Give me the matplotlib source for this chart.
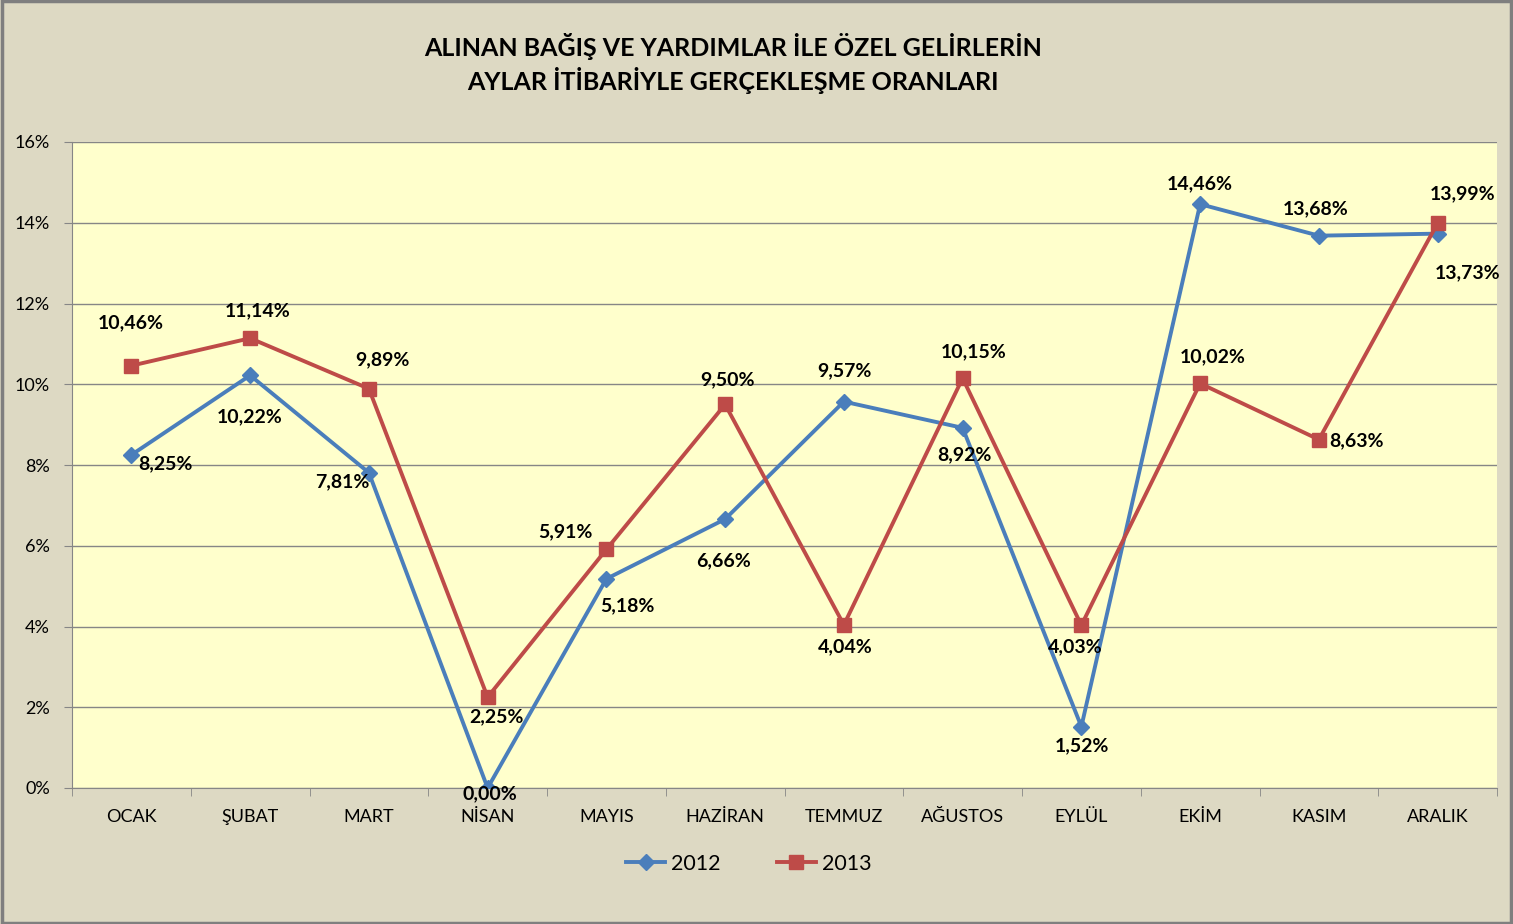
import matplotlib
matplotlib.use("Agg")
import matplotlib.pyplot as plt
from matplotlib.ticker import FixedLocator, FuncFormatter
from matplotlib.patches import Rectangle

plt.rcParams['font.family'] = ['Lato', 'DejaVu Sans']

months = ["OCAK", "ŞUBAT", "MART", "NİSAN", "MAYIS", "HAZİRAN", "TEMMUZ",
          "AĞUSTOS", "EYLÜL", "EKİM", "KASIM", "ARALIK"]
values_2012 = [8.25, 10.22, 7.81, 0.00, 5.18, 6.66, 9.57, 8.92, 1.52, 14.46, 13.68, 13.73]
values_2013 = [10.46, 11.14, 9.89, 2.25, 5.91, 9.50, 4.04, 10.15, 4.03, 10.02, 8.63, 13.99]
yticks = [0, 2, 4, 6, 8, 10, 12, 14, 16]
title_lines = ["ALINAN BAĞIŞ VE YARDIMLAR İLE ÖZEL GELİRLERİN",
               "AYLAR İTİBARİYLE GERÇEKLEŞME ORANLARI"]

# label offsets in pixels (layout)
off_2012 = [(34, -9), (0, -41), (-27, -9), (2, -6), (21, -27), (-2, -42), (1, 31), (2, -27),
            (1, -19), (0, 20), (-3, 27), (30, -39)]
off_2013 = [(-1, 43), (8, 27), (14, 29), (9, -20), (-41, 18), (2, 25), (1, -22), (11, 26),
            (-6, -21), (13, 27), (38, -1), (25, 29)]

blue = "#4A7EBB"
red = "#BE4B48"

fig = plt.figure(figsize=(15.13, 9.24), dpi=100)
fig.patch.set_facecolor("#DDD9C3")
fig.patches.append(Rectangle((0.001, 0.001), 0.998, 0.998, transform=fig.transFigure,
                             fill=False, edgecolor="#7F7F7F", linewidth=2.5))

ax = fig.add_axes([72/1513, 1-788/924, (1497-72)/1513, (788-142)/924])
ax.set_facecolor("#FFFFCC")
x = list(range(len(months)))

ax.plot(x, values_2012, color=blue, linewidth=2.8, marker="D", markersize=8,
        markeredgecolor=blue, label="2012", zorder=3)
ax.plot(x, values_2013, color=red, linewidth=2.8, marker="s", markersize=10,
        markeredgecolor=red, label="2013", zorder=4)

for i, v in enumerate(values_2012):
    ax.annotate(f"{v:.2f}%".replace(".", ","), (i, v), xytext=off_2012[i],
                textcoords="offset pixels", ha="center", va="center",
                fontsize=14, fontweight="bold", color="black", zorder=5)
for i, v in enumerate(values_2013):
    ax.annotate(f"{v:.2f}%".replace(".", ","), (i, v), xytext=off_2013[i],
                textcoords="offset pixels", ha="center", va="center",
                fontsize=14, fontweight="bold", color="black", zorder=5)

ax.set_xlim(-0.5, len(months) - 0.5)
ax.set_ylim(0, 16)
ax.set_yticks(yticks)
ax.yaxis.set_major_formatter(FuncFormatter(lambda v, p: f"{int(v)}%"))
ax.yaxis.grid(True, color="#868686", linewidth=1)
ax.set_axisbelow(True)

ax.set_xticks(x)
ax.set_xticklabels(months)
ax.xaxis.set_minor_locator(FixedLocator([i - 0.5 for i in range(len(months) + 1)]))
ax.tick_params(axis="x", which="major", length=0, pad=15, labelsize=13)
ax.tick_params(axis="x", which="minor", length=6, color="#868686", direction="out")
ax.tick_params(axis="y", length=6, color="#868686", labelsize=13, pad=10)

for side in ["top", "right"]:
    ax.spines[side].set_visible(False)
ax.spines["left"].set_color("#868686")
ax.spines["bottom"].set_color("#868686")

fig.text(733/1513, 1-46/924, title_lines[0], ha="center", va="center",
         fontsize=18, fontweight="bold")
fig.text(733/1513, 1-81/924, title_lines[1], ha="center", va="center",
         fontsize=18, fontweight="bold")

leg = fig.legend(loc="center", bbox_to_anchor=(749/1513, 1-864/924), ncol=2,
                 frameon=False, fontsize=15.5, handlelength=1.8, columnspacing=2.6,
                 handletextpad=0.3)

fig.savefig("out.png", dpi=100, facecolor=fig.get_facecolor())
